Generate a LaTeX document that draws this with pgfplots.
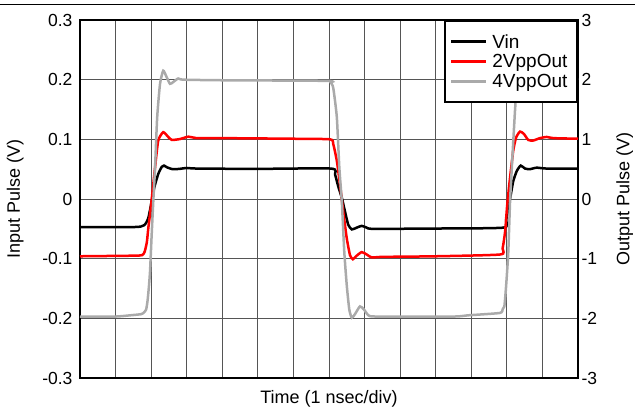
\documentclass[border=0pt]{standalone}
\usepackage{fontspec}
\setmainfont{Liberation Sans}
\usepackage{pgfplots}
\pgfplotsset{compat=1.18}
\definecolor{grayline}{RGB}{170,170,170}
\definecolor{gridc}{RGB}{85,85,85}
\definecolor{redline}{RGB}{255,0,0}

\begin{document}
\begin{tikzpicture}
\path[use as bounding box] (-80pt,-32pt) rectangle (555pt,378pt);
\pgfplotsset{
  common/.style={
    scale only axis, width=498pt, height=358pt,
    xmin=0, xmax=14,
    major tick length=0pt,
    axis line style={line width=2.6pt, line cap=rect},
    tick label style={font=\fontsize{17.5}{18}\selectfont},
    label style={font=\fontsize{18}{20}\selectfont},
  }
}
\begin{axis}[common,
  ymin=-0.3, ymax=0.3,
  xtick={0,1,...,14}, xticklabels={},
  ytick={-0.3,-0.2,-0.1,0,0.1,0.2,0.3},
  yticklabels={-0.3,-0.2,-0.1,0,0.1,0.2,0.3},
  ytick pos=left,
  yticklabel style={xshift=-4pt},
  grid=major,
  major grid style={gridc, line width=0.9pt},
  xlabel={Time (1 nsec/div)},
  xlabel style={at={(axis description cs:0.5,-0.07)}, anchor=base},
  ylabel={Input Pulse (V)},
  ylabel style={at={(axis description cs:-0.13,0.5)}, anchor=center},
]
\addplot[black, line width=2.5pt, smooth, tension=0.35] coordinates {
(0,-0.047) (1.5,-0.047) (1.72,-0.046) (1.80,-0.044) (1.86,-0.040) (1.92,-0.032)
(1.98,-0.015) (2.04,0.005) (2.10,0.022) (2.20,0.042) (2.30,0.054) (2.36,0.056)
(2.45,0.053) (2.6,0.050) (2.8,0.0505) (3.0,0.052) (3.3,0.051) (5,0.0505) (7.06,0.051)
(7.17,0.041) (7.26,0.021) (7.36,0.002) (7.45,-0.021) (7.54,-0.043) (7.64,-0.051)
(7.78,-0.048) (7.92,-0.045) (8.06,-0.048) (8.24,-0.050) (10,-0.0495) (11.90,-0.048)
(11.98,-0.035) (12.04,-0.015) (12.11,0.007) (12.18,0.030) (12.28,0.047) (12.39,0.056)
(12.51,0.051) (12.65,0.050) (12.84,0.0525) (13.12,0.051) (14,0.051)
};
\end{axis}
\begin{axis}[common,
  ymin=-3, ymax=3,
  axis x line=none,
  axis y line*=right,
  ytick={-3,-2,-1,0,1,2,3},
  yticklabels={-3,-2,-1,0,1,2,3},
  ylabel={Output Pulse (V)},
  ylabel style={at={(axis description cs:1.094,0.5)}, anchor=center, rotate=0},
  legend cell align=left,
  legend image code/.code={\draw[#1, line width=3pt] (0pt,0pt) -- (35pt,0pt);},
  legend style={at={(rel axis cs:1,1)}, anchor=north east, draw=black,
    line width=2.2pt, fill=white,
    font=\fontsize{19}{20}\selectfont,
    inner xsep=5pt, inner ysep=11pt, row sep=0.5pt,
    nodes={inner xsep=4.5pt, inner ysep=2.2pt}},
]
\addlegendimage{black}
\addlegendentry{Vin}
\addplot[redline, line width=2.5pt, smooth, tension=0.35] coordinates {
(0,-0.96) (1.5,-0.95) (1.75,-0.94) (1.82,-0.88) (1.88,-0.72) (1.92,-0.49)
(2.01,-0.04) (2.11,0.53) (2.2,0.98) (2.34,1.12) (2.48,1.04) (2.58,0.99)
(2.81,1.005) (3.05,1.045) (3.28,1.02) (4,1.02) (6,1.01) (7.03,1.00)
(7.12,0.92) (7.22,0.64) (7.31,0.24) (7.40,-0.21) (7.50,-0.66) (7.59,-0.94)
(7.67,-1.01) (7.78,-0.95) (7.92,-0.89) (8.06,-0.93) (8.20,-0.98) (8.5,-0.97)
(10,-0.96) (11.81,-0.93) (11.88,-0.83) (11.95,-0.55) (12.01,-0.10) (12.09,0.36)
(12.18,0.81) (12.26,1.03) (12.37,1.13) (12.48,1.09) (12.60,0.99) (12.74,0.98)
(12.93,1.02) (13.12,1.04) (13.31,1.02) (14,1.01)
};
\addlegendentry{2VppOut}
\addplot[grayline, line width=2.5pt, smooth, tension=0.35] coordinates {
(0,-1.97) (1.0,-1.97) (1.4,-1.95) (1.72,-1.93) (1.80,-1.90) (1.86,-1.85)
(1.90,-1.70) (1.94,-1.45) (1.97,-1.20) (2.01,-0.66) (2.06,-0.04) (2.11,0.53)
(2.17,1.37) (2.25,1.93) (2.34,2.15) (2.43,2.05) (2.53,1.93) (2.62,1.96)
(2.76,2.02) (2.90,2.00) (4,1.99) (6.95,1.98) (7.05,1.95) (7.12,1.86) (7.22,1.37)
(7.29,0.53) (7.36,-0.04) (7.43,-0.89) (7.50,-1.45) (7.57,-1.85) (7.64,-1.99)
(7.73,-1.93) (7.87,-1.80) (7.98,-1.85) (8.11,-1.95) (8.34,-1.97) (10.5,-1.97)
(10.9,-1.95) (11.8,-1.91) (11.88,-1.85) (11.93,-1.80) (11.98,-1.45) (12.04,-0.89)
(12.09,-0.04) (12.14,0.53) (12.23,1.49) (12.30,2.05) (12.40,2.15) (12.52,1.93)
(12.65,2.00) (14,2.00)
};
\addlegendentry{4VppOut}
\end{axis}
\draw[line width=1pt] (-80pt,373pt) -- (555pt,373pt);
\end{tikzpicture}
\end{document}
